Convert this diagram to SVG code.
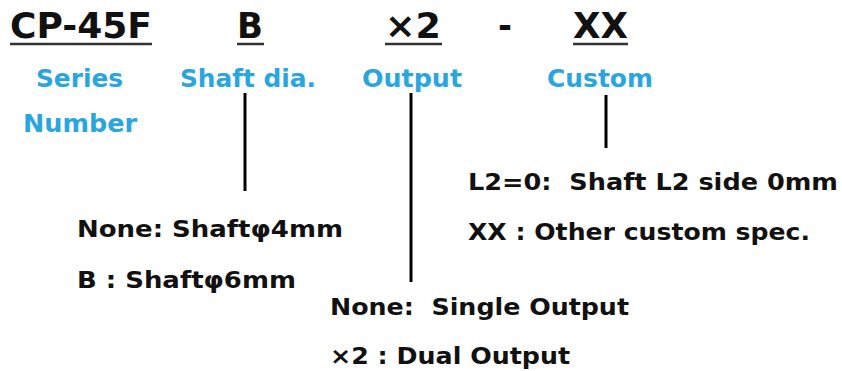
<svg xmlns="http://www.w3.org/2000/svg" width="842" height="371" viewBox="0 0 842 371">
<style>
.code{font-family:"DejaVu Sans",Verdana,sans-serif;font-weight:bold;font-size:36px;fill:#111}
.lbl{font-family:"DejaVu Sans",Verdana,sans-serif;font-weight:bold;font-size:25px;fill:#2aa6df}
.opt{font-family:"DejaVu Sans",Verdana,sans-serif;font-weight:bold;font-size:23px;fill:#111}
.ul{stroke:#333;stroke-width:2.5}
.con{stroke:#000;stroke-width:3;fill:none}
</style>
<rect width="842" height="371" fill="#fff"/>
<g id="code">
<text class="code" x="10" y="38" textLength="142" lengthAdjust="spacingAndGlyphs">CP-45F</text>
<line class="ul" x1="10" y1="44" x2="152" y2="44"/>
<text class="code" x="237" y="38" textLength="26" lengthAdjust="spacingAndGlyphs">B</text>
<line class="ul" x1="237" y1="44" x2="264" y2="44"/>
<text class="code" x="385" y="38" textLength="56" lengthAdjust="spacingAndGlyphs">×2</text>
<line class="ul" x1="385" y1="44" x2="442" y2="44"/>
<text class="code" x="498" y="38" textLength="14" lengthAdjust="spacingAndGlyphs">-</text>
<text class="code" x="573" y="38" textLength="55" lengthAdjust="spacingAndGlyphs">XX</text>
<line class="ul" x1="573" y1="44" x2="628" y2="44"/>
</g>
<g id="series">
<text class="lbl" x="36" y="87" textLength="87" lengthAdjust="spacingAndGlyphs">Series</text>
<text class="lbl" x="23" y="132" textLength="114" lengthAdjust="spacingAndGlyphs">Number</text>
</g>
<g id="shaft">
<text class="lbl" x="180" y="87" textLength="136" lengthAdjust="spacingAndGlyphs">Shaft dia.</text>
<text class="opt" x="77" y="237" textLength="266" lengthAdjust="spacingAndGlyphs">None: Shaftφ4mm</text>
<text class="opt" x="77" y="288" textLength="219" lengthAdjust="spacingAndGlyphs">B : Shaftφ6mm</text>
</g>
<g id="output">
<text class="lbl" x="362" y="87" textLength="100" lengthAdjust="spacingAndGlyphs">Output</text>
<text class="opt" x="330" y="315" textLength="299" lengthAdjust="spacingAndGlyphs" xml:space="preserve">None:  Single Output</text>
<text class="opt" x="330" y="364" textLength="240" lengthAdjust="spacingAndGlyphs">×2 : Dual Output</text>
</g>
<g id="custom">
<text class="lbl" x="547" y="87" textLength="106" lengthAdjust="spacingAndGlyphs">Custom</text>
<text class="opt" x="468" y="190" textLength="370" lengthAdjust="spacingAndGlyphs" xml:space="preserve">L2=0:  Shaft L2 side 0mm</text>
<text class="opt" x="468" y="240" textLength="342" lengthAdjust="spacingAndGlyphs">XX : Other custom spec.</text>
</g>
<g id="connectors">
<line class="con" x1="245" y1="93" x2="245" y2="191"/>
<line class="con" x1="411" y1="93" x2="411" y2="282"/>
<line class="con" x1="606" y1="95" x2="606" y2="148"/>
</g>
</svg>
